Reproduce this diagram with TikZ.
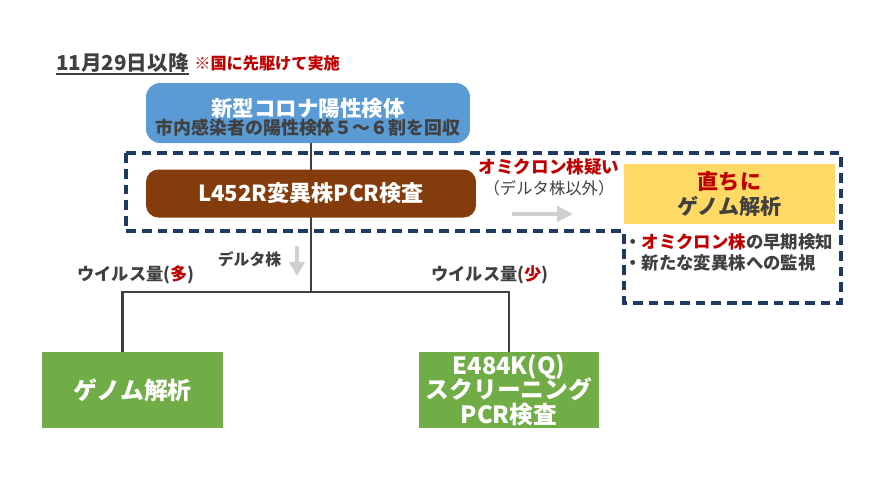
\documentclass[tikz,border=0pt]{standalone}
\usepackage{fontspec}
\setmainfont{Noto Sans CJK JP}
\usetikzlibrary{positioning,arrows.meta}
\definecolor{txtgray}{HTML}{404040}
\definecolor{redtxt}{HTML}{C00000}
\definecolor{bluefill}{HTML}{5B9BD5}
\definecolor{brownfill}{HTML}{843C0C}
\definecolor{yellowfill}{HTML}{FFD966}
\definecolor{greenfill}{HTML}{70AD47}
\definecolor{navy}{HTML}{203864}
\definecolor{arrowgray}{HTML}{D0CECE}
\lineskiplimit=-20pt
\tikzset{lbl/.style={inner sep=0pt, text=txtgray, align=center, font=\fontsize{9.8}{12}\selectfont\bfseries}}

\begin{document}
\begin{tikzpicture}[
    x=0.02cm, y=-0.02cm,
    line/.style={draw=txtgray, line width=1.6pt},
    hint/.style={draw=arrowgray, line width=2.6pt, -{Triangle[length=9pt, width=8.5pt]}},
    box/.style={
        rounded corners=8pt,
        align=center,
        inner sep=0pt,
        text=white
    },
    flat/.style={
        align=center,
        inner sep=0pt,
        minimum width=3.6cm,
        minimum height=1.52cm,
        fill=greenfill,
        text=white
    }
]
\useasboundingbox (0,0) rectangle (886,481);
% Heading
\node[anchor=base west, inner sep=0pt, text=txtgray,
      font=\fontsize{11.7}{14}\selectfont\bfseries] (title) at (56,70) {11月29日以降};
\draw[txtgray, line width=1pt] ([yshift=-2.4pt]title.base west) -- ([yshift=-2.4pt]title.base east);
\node[anchor=base west, inner sep=0pt, text=redtxt,
      font=\fontsize{9.2}{12}\selectfont\bfseries] (first) at (194,69) {※国に先駆けて実施};
% Dashed frame
\draw[navy, line width=1.9pt, dash pattern=on 5.5pt off 3.4pt]
    (126,153) -- (841,153) -- (841,303) -- (624,303) -- (624,231) -- (126,231) -- cycle;
% Top node
\node[box, fill=bluefill, minimum width=6.48cm, minimum height=1.2cm,
      font=\fontsize{10.2}{10.4}\selectfont\bfseries] (sample) at (308,113)
    {\rule{0pt}{15pt}{\fontsize{12.2}{10.4}\selectfont 新型コロナ陽性検体}\\
     \textcolor{txtgray}{市内感染者の陽性検体５～６割を回収}};
% Split point and trunk
\coordinate (split) at (311,292);
\draw[line] (split |- sample.south) -- (split);
% Variant PCR node
\node[box, rounded corners=7pt, fill=brownfill, minimum width=6.6cm, minimum height=0.96cm,
      font=\fontsize{12.6}{14}\selectfont\bfseries] (l452r) at (311,193.5) {L452R変異株PCR検査};
% Omicron branch
\node[lbl, font=\fontsize{9.3}{12}\selectfont] (omi) at (549,177.5)
    {\textcolor{redtxt}{\fontsize{10}{12}\selectfont\bfseries オミクロン株疑い}\\（デルタ株以外）};
\coordinate (omiFrom) at (512,214);
\coordinate (omiTo) at (573,214);
\draw[hint] (omiFrom) -- (omiTo);
\node[align=center, inner sep=0pt, fill=yellowfill, text=txtgray, minimum width=4.22cm,
      minimum height=1.2cm, font=\fontsize{12}{14.7}\selectfont\bfseries] (genomeNow) at (729.5,194)
    {\textcolor{redtxt}{直ちに}\\ゲノム解析};
\node[lbl, anchor=north west, align=left, font=\fontsize{9.9}{12}\selectfont\bfseries]
    (aims) at (624,233)
    {・\textcolor{redtxt}{オミクロン株}の早期検知\\・新たな変異株への監視};
% Delta branch
\node[lbl, font=\fontsize{9}{12}\selectfont\bfseries] (delta) at (249.5,259) {デルタ株};
\coordinate (deltaFrom) at (297,246);
\coordinate (deltaTo) at (297,276);
\draw[hint, -{Triangle[length=8pt, width=8.5pt]}] (deltaFrom) -- (deltaTo);
\node[lbl] (many) at (136,275) {ウイルス量(\textcolor{redtxt}{多})};
\node[lbl] (few) at (490,275) {ウイルス量(\textcolor{redtxt}{少})};
% Bottom boxes
\node[flat, minimum width=3.62cm, font=\fontsize{13.6}{14}\selectfont\bfseries] (genome) at (132.5,390) {ゲノム解析};
\node[flat, font=\fontsize{13.5}{14}\selectfont\bfseries] (screen) at (509,390)
    {E484K(Q)\\スクリーニング\\PCR検査};
% Branch lines
\draw[line] (split) -| ([xshift=-5.8pt]genome.north);
\draw[line] (split) -| (screen.north);
\end{tikzpicture}
\end{document}
